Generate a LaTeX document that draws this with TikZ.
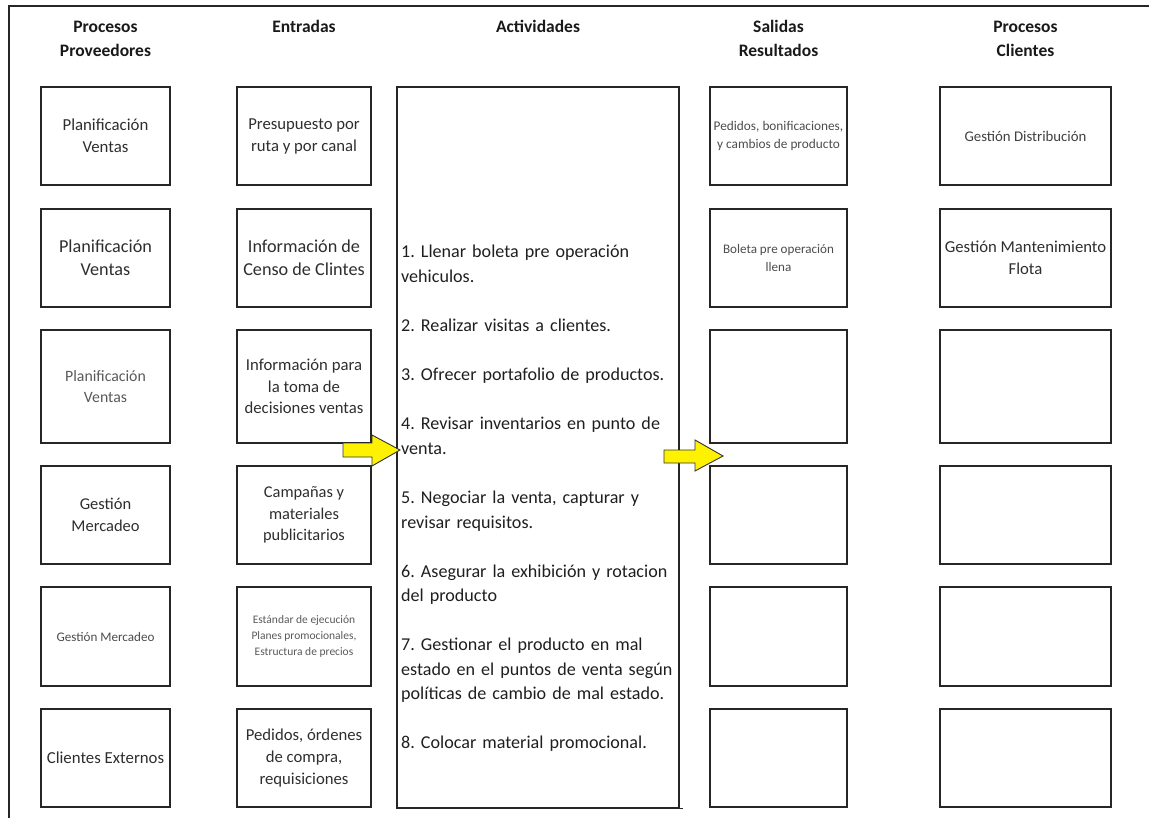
\documentclass[tikz,border=0pt]{standalone}
\usepackage{fontspec}
\setmainfont{Carlito}
\newcommand\boxfont[2]{\fontsize{#1}{#2}\selectfont}
\frenchspacing
\begin{document}
\begin{tikzpicture}[x=1pt,y=-1pt,
  box/.style={draw=black!85, line width=1.4pt, inner sep=0pt, align=center, text=black!82},
  hdr/.style={font=\bfseries\boxfont{17.5}{24}, text=black!90, align=center, text width=160pt, inner sep=0pt, anchor=base},
  blockarrow/.style={fill=yellow, draw=black!80, line width=0.9pt, line join=miter},
  frame/.style={line width=2pt, draw=black!85}]
\useasboundingbox (0,0) rectangle (1149,818);

% page frame (top and left edges)
\draw[frame] (1149,6) -- (9,6) -- (9,818);

% column headers
\node[hdr] (h1) at (105.5,33) {Procesos\\Proveedores};
\node[hdr] (h2) at (304,33) {Entradas};
\node[hdr] (h3) at (538,33) {Actividades};
\node[hdr] (h4) at (778.5,33) {Salidas\\Resultados};
\node[hdr] (h5) at (1025.5,33) {Procesos\\Clientes};

% supplier processes
\node[box, minimum width=129pt, minimum height=98pt, font=\boxfont{16.8}{22}] (p1) at (105.5,136) {Planificación\\Ventas};
\node[box, minimum width=129pt, minimum height=98pt, font=\boxfont{18.2}{23.3}] (p2) at (105.5,258) {Planificación\\Ventas};
\node[box, minimum width=129pt, minimum height=113pt, font=\boxfont{15.8}{21.6}, text=black!65] (p3) at (105.5,386.5) {Planificación\\Ventas};
\node[box, minimum width=129pt, minimum height=98pt, font=\boxfont{16.5}{22}] (p4) at (105.5,515) {Gestión\\Mercadeo};
\node[box, minimum width=129pt, minimum height=99pt, font=\boxfont{13.1}{17}, text=black!70] (p5) at (105.5,636.5) {Gestión Mercadeo};
\node[box, minimum width=129pt, minimum height=98pt, font=\boxfont{16.8}{22}] (p6) at (105.5,758) {Clientes Externos};

% inputs
\node[box, minimum width=134pt, minimum height=98pt, font=\boxfont{16.7}{22}] (e1) at (304,136) {Presupuesto por\\ruta y por canal};
\node[box, minimum width=134pt, minimum height=98pt, font=\boxfont{18.2}{23.3}] (e2) at (304,258) {Información de\\Censo de Clintes};
\node[box, minimum width=134pt, minimum height=113pt, font=\boxfont{16.7}{21.7}] (e3) at (304,386.5) {Información para\\la toma de\\decisiones ventas};
\node[box, minimum width=134pt, minimum height=98pt, font=\boxfont{16.4}{21.7}] (e4) at (304,515) {Campañas y\\materiales\\publicitarios};
\node[box, minimum width=134pt, minimum height=99pt, font=\boxfont{11.5}{16}, text=black!65] (e5) at (304,636.5) {Estándar de ejecución\\Planes promocionales,\\Estructura de precios};
\node[box, minimum width=134pt, minimum height=98pt, font=\boxfont{16.7}{22}] (e6) at (304,758) {Pedidos, órdenes\\de compra,\\requisiciones};

% activities
\node[box, minimum width=282pt, minimum height=721pt] (act) at (538,447.5) {};
\node[anchor=base west, inner sep=0pt, text width=320pt, align=left, text=black!88,
      font=\boxfont{18.1}{24.55}] (actlist) at (401,258)
 {1. Llenar boleta pre operación\\vehiculos.\\[24.55pt]
  2. Realizar visitas a clientes.\\[24.55pt]
  3. Ofrecer portafolio de productos.\\[24.55pt]
  4. Revisar inventarios en punto de\\venta.\\[24.55pt]
  5. Negociar la venta, capturar y\\revisar requisitos.\\[24.55pt]
  6. Asegurar la exhibición y rotacion\\del producto\\[24.55pt]
  7. Gestionar el producto en mal\\estado en el puntos de venta según\\políticas de cambio de mal estado.\\[24.55pt]
  8. Colocar material promocional.};

% outputs
\node[box, minimum width=137pt, minimum height=98pt, font=\boxfont{13.3}{18}, text=black!70] (s1) at (778.5,136) {Pedidos, bonificaciones,\\y cambios de producto};
\node[box, minimum width=137pt, minimum height=98pt, font=\boxfont{13.1}{18}, text=black!70] (s2) at (778.5,258) {Boleta pre operación\\llena};
\node[box, minimum width=137pt, minimum height=113pt] (s3) at (778.5,386.5) {};
\node[box, minimum width=137pt, minimum height=98pt] (s4) at (778.5,515) {};
\node[box, minimum width=137pt, minimum height=99pt] (s5) at (778.5,636.5) {};
\node[box, minimum width=137pt, minimum height=98pt] (s6) at (778.5,758) {};

% customer processes
\node[box, minimum width=171pt, minimum height=98pt, font=\boxfont{14.8}{19}, text=black!75] (c1) at (1025.5,136) {Gestión Distribución};
\node[box, minimum width=171pt, minimum height=98pt, font=\boxfont{16.7}{22}] (c2) at (1025.5,258) {Gestión Mantenimiento\\Flota};
\node[box, minimum width=171pt, minimum height=113pt] (c3) at (1025.5,386.5) {};
\node[box, minimum width=171pt, minimum height=98pt] (c4) at (1025.5,515) {};
\node[box, minimum width=171pt, minimum height=99pt] (c5) at (1025.5,636.5) {};
\node[box, minimum width=171pt, minimum height=98pt] (c6) at (1025.5,758) {};

% small overhang at the foot of the activities box
\draw[black!85, line width=1.2pt] (act.south east) -- ++(3,0);

% block arrows: inputs -> activities -> outputs
\draw[blockarrow] (343,443) -- (372,443) -- (372,435) -- (400,450) -- (372,466) -- (372,457) -- (343,457) -- cycle;
\draw[blockarrow] (664,450) -- (695,450) -- (695,440) -- (723,456) -- (695,471) -- (695,463) -- (664,463) -- cycle;
\end{tikzpicture}
\end{document}
